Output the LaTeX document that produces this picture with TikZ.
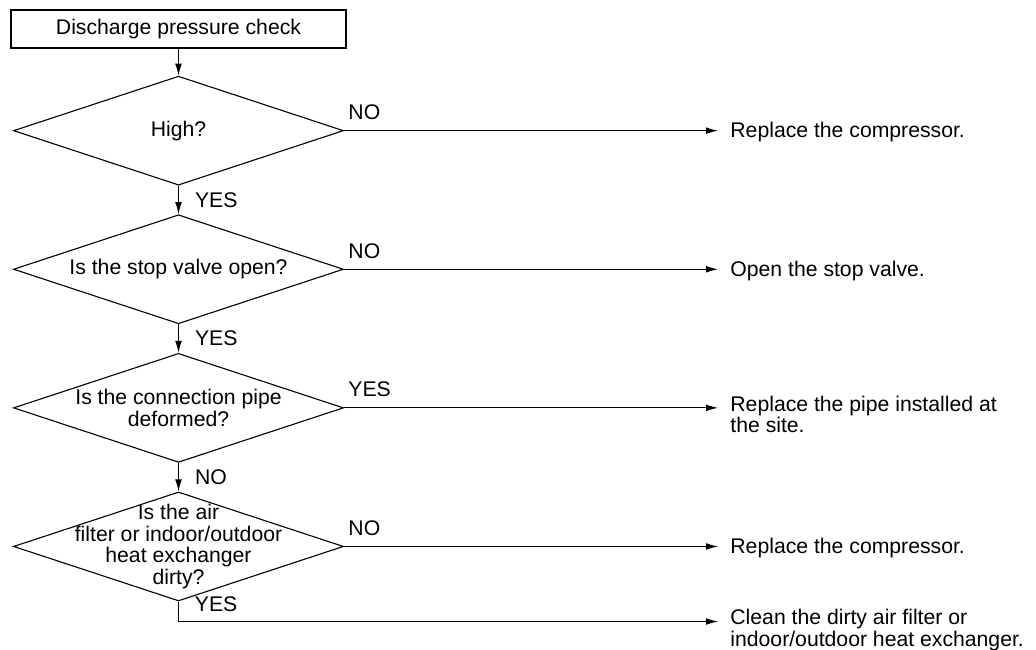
\documentclass[tikz,border=0pt]{standalone}
\usepackage{fontspec}
\setmainfont{Liberation Sans}
\usetikzlibrary{arrows.meta,positioning,shapes.geometric}
\tikzset{
  startbox/.style={draw,line width=0.6pt,minimum width=167.5pt,minimum height=19pt,
    inner sep=0pt,font=\fontsize{10.6}{12}\selectfont},
  decision/.style={draw,line width=0.55pt,diamond,aspect=3,minimum width=165pt,
    minimum height=54.5pt,inner sep=0pt},
  qtext/.style={inner sep=0pt,align=center,font=\fontsize{10.6}{10.8}\selectfont},
  outcome/.style={inner sep=0pt,align=left,anchor=base west,yshift=-3.6pt,
    font=\fontsize{10.6}{8.9}\selectfont},
  outcome2/.style={outcome,yshift=-8.9pt},% two lines: first one on the arrow
  flow/.style={-{Latex[length=6pt,width=3.4pt]},line width=0.55pt},
  tag/.style={inner sep=0pt,anchor=base west,font=\fontsize{10.6}{12}\selectfont},
  vtag/.style={tag,anchor=west,xshift=8pt},
}
\begin{document}
\begin{tikzpicture}[x=0.5pt,y=-0.5pt,node distance=14.25pt]
  \useasboundingbox (0,0) rectangle (1036,649);
  \coordinate (ax) at (718,0);
  \coordinate (tx) at (730,0);
  \node[startbox] (start) at (178.5,29) {Discharge pressure check};
  \node[decision,below=13.5pt of start] (q1) {};
  \node[decision,below=of q1] (q2) {};
  \node[decision,below=of q2] (q3) {};
  \node[decision,below=of q3] (q4) {};
  \node[qtext] (t1) at (q1) {High?};
  \node[qtext] (t2) at (q2) {Is the stop valve open?};
  \node[qtext] (t3) at (q3) {Is the connection pipe\\deformed?};
  \node[qtext] (t4) at (q4) {Is the air\\filter or indoor/outdoor\\heat exchanger\\dirty?};
  % what to do
  \node[outcome] (r1) at (q1.east -| tx) {Replace the compressor.};
  \node[outcome] (r2) at (q2.east -| tx) {Open the stop valve.};
  \node[outcome2] (r3) at (q3.east -| tx) {Replace the pipe installed at\\the site.};
  \node[outcome] (r4) at (q4.east -| tx) {Replace the compressor.};
  \coordinate (yes4) at ([yshift=-10pt]q4.south);
  \node[outcome2] (r5) at (yes4 -| tx) {Clean the dirty air filter or\\indoor/outdoor heat exchanger.};
  % connectors
  \draw[flow] (start) -- (q1);
  \draw[flow] (q1) -- node[vtag] (y1) {YES} (q2);
  \draw[flow] (q2) -- node[vtag] (y2) {YES} (q3);
  \draw[flow] (q3) -- node[vtag] (n3) {NO} (q4);
  \draw[flow] (q1.east) -- (q1.east -| ax);
  \draw[flow] (q2.east) -- (q2.east -| ax);
  \draw[flow] (q3.east) -- (q3.east -| ax);
  \draw[flow] (q4.east) -- (q4.east -| ax);
  \draw[flow] (q4.south) -- (yes4) -- (yes4 -| ax);
  \node[tag] (n1) at ([xshift=2pt,yshift=5.5pt]q1.east) {NO};
  \node[tag] (n2) at ([xshift=2pt,yshift=5.5pt]q2.east) {NO};
  \node[tag] (y3) at ([xshift=2pt,yshift=5.5pt]q3.east) {YES};
  \node[tag] (n4) at ([xshift=2pt,yshift=5.5pt]q4.east) {NO};
  \node[tag] (y4) at ([xshift=8pt,yshift=5pt]yes4) {YES};
\end{tikzpicture}
\end{document}
